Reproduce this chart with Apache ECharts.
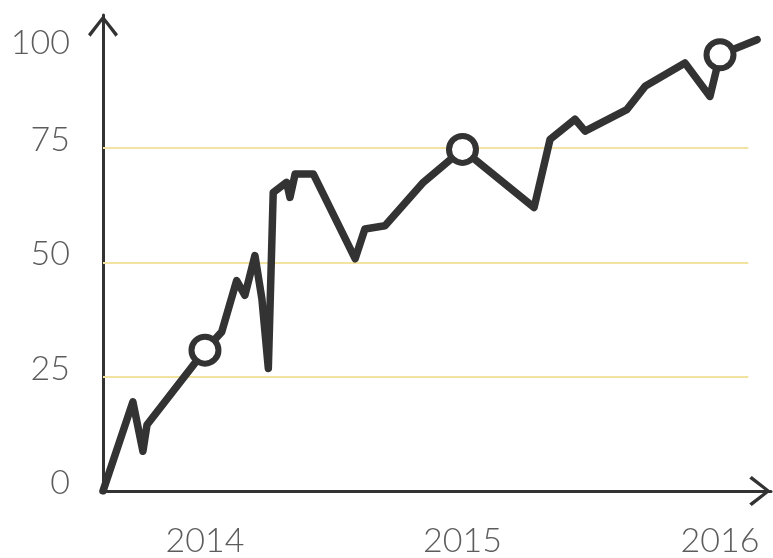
<!DOCTYPE html>
<html>
<head>
<meta charset="utf-8">
<script src="https://cdn.jsdelivr.net/npm/echarts@6/dist/echarts.min.js"></script>
<style>
  html, body { margin: 0; padding: 0; background: #fff; }
  #chart { width: 773px; height: 558px; }
</style>
</head>
<body>
<div id="chart"></div>
<script>
// years as decimals
const years = [2013.604, 2013.72, 2013.759, 2013.775, 2014.0, 2014.065, 2014.123, 2014.155,
  2014.194, 2014.221, 2014.246, 2014.265, 2014.317, 2014.330, 2014.350, 2014.421,
  2014.583, 2014.621, 2014.699, 2014.848, 2015.0, 2015.278, 2015.340, 2015.437,
  2015.476, 2015.638, 2015.709, 2015.864, 2015.961, 2016.0, 2016.144]
const values = [0, 19.5, 8.7, 14.5, 30.8, 34.8, 46, 42.8,
  51.5, 42, 26.8, 65.3, 67.5, 64.2, 69.3, 69.3,
  50.8, 57.3, 58, 67.5, 74.7, 62, 76.9, 81.3,
  78.7, 83.4, 88.5, 93.6, 86.3, 95.4, 98.7]
const markedYears = [2014, 2015, 2016]
const yearLabels = [2014, 2015, 2016]
const valueLabels = [0, 25, 50, 75]
const topLabel = [100]
const gridValues = [25, 50, 75]
const gridRange = [2013.604, 2016.11]

const ink = '#333333'
const labelColor = '#5c5c5c'
const arrow = 'path://M15,0 L30,19 L27.5,21.5 L15,5 L2.5,21.5 L0,19 Z'

const lineData = years.map(function(x, i) {
  if (markedYears.indexOf(x) > -1) {
    return {
      value: [x, values[i]],
      symbol: 'circle',
      symbolSize: 27,
      itemStyle: { color: '#fff', borderColor: ink, borderWidth: 6 }
    }
  }
  return { value: [x, values[i]], symbol: 'none' }
})

const labelFont = {
  fontFamily: 'Lato',
  fontWeight: 300,
  fontSize: 34,
  color: labelColor
}

const chart = echarts.init(document.getElementById('chart'))
chart.setOption({
  animation: false,
  grid: { left: 103, right: 2, top: 15, bottom: 65 },
  xAxis: {
    type: 'value',
    min: 2013.604,
    max: 2016.198,
    axisLine: {
      lineStyle: { color: ink, width: 3 },
      symbol: ['none', arrow],
      symbolSize: [30, 22],
      symbolOffset: [0, -11]
    },
    axisTick: { show: false },
    splitLine: { show: false },
    axisLabel: Object.assign({
      customValues: yearLabels,
      formatter: function(v) { return String(v) },
      margin: 33
    }, labelFont)
  },
  yAxis: [{
    type: 'value',
    position: 'left',
    min: 0,
    max: 104.1,
    axisLine: {
      show: true,
      lineStyle: { color: ink, width: 3 },
      symbol: ['none', arrow],
      symbolSize: [30, 22],
      symbolOffset: [0, -11]
    },
    axisTick: { show: false },
    splitLine: { show: false },
    axisLabel: Object.assign({
      customValues: valueLabels,
      margin: 33,
      verticalAlign: 'bottom',
      lineHeight: 16
    }, labelFont)
  }, {
    // the "100" label sits a little below its value in the original
    type: 'value',
    position: 'left',
    offset: 0,
    min: 0,
    max: 104.1,
    axisLine: { show: false },
    axisTick: { show: false },
    splitLine: { show: false },
    axisLabel: Object.assign({
      customValues: topLabel,
      margin: 33,
      verticalAlign: 'top',
      lineHeight: 18
    }, labelFont)
  }],
  series: [{
    type: 'line',
    z: 3,
    data: lineData,
    symbol: 'none',
    lineStyle: { color: ink, width: 7.5, join: 'round', cap: 'round' },
    markLine: {
      z: 1,
      silent: true,
      symbol: 'none',
      label: { show: false },
      lineStyle: { color: '#f2e3a0', width: 2, type: 'solid' },
      data: gridValues.map(function(v) {
        return [{ coord: [gridRange[0], v] }, { coord: [gridRange[1], v] }]
      })
    }
  }]
})
</script>
</body>
</html>
